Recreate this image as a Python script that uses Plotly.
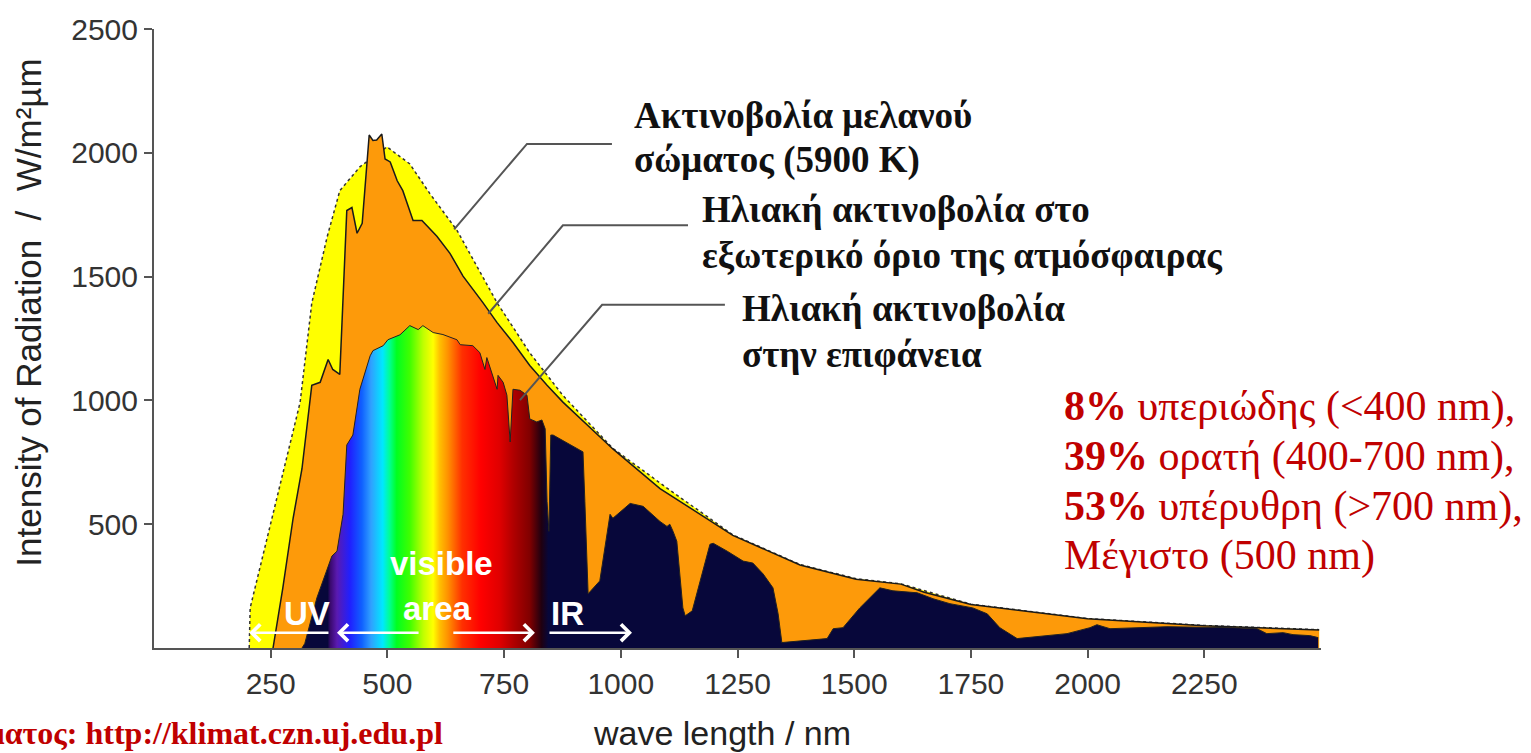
import plotly.graph_objects as go

# ---------------- data ----------------
# Black-body radiation (5900 K)
bb_nm = [204, 206, 234, 276, 313, 338, 371, 398, 441, 478, 499, 548, 591, 649,
         735, 805, 876, 983, 1099, 1240, 1384, 1504, 1600, 1750, 1812, 2000, 2250, 2496]
bb_val = [0, 162, 379, 700, 992, 1393, 1661, 1847, 1943, 1995, 2024, 1955, 1835, 1687,
          1394, 1192, 1020, 806, 646, 457, 337, 280, 259, 177, 163, 119, 91, 74]

# Solar radiation at the top of the atmosphere
etr_nm = [255, 276, 298, 317, 338, 356, 373, 383, 398, 405, 413, 424, 435, 446, 456,
          461, 469, 477, 488, 495, 506, 521, 533, 555, 574, 606, 634, 662, 705, 735,
          769, 805, 842, 876, 983, 1084, 1240, 1384, 1504, 1550, 1600, 1650, 1750,
          1812, 2000, 2250, 2496]
etr_val = [0, 243, 524, 724, 1061, 1073, 1165, 1125, 1105, 1394, 1767, 1779, 1675, 1715, 1956,
           2072, 2050, 2052, 2076, 1975, 1963, 1887, 1847, 1727, 1727, 1663, 1594, 1502, 1394, 1314,
           1234, 1141, 1061, 993, 804, 644, 455, 335, 278, 268, 258, 225, 176,
           162, 118, 90, 73]

# Solar radiation at the surface
sfc_nm = [317, 323, 349, 371, 381, 392, 405, 413, 426, 441, 448, 463, 469, 491, 501,
          527, 548, 566, 576, 598, 619, 649, 656, 683, 698, 709, 713, 726, 735, 737,
          748, 756, 763, 769, 784, 799, 805, 820, 831, 838, 842, 846, 850, 855, 919,
          923, 930, 955, 977, 983, 1020, 1048, 1084, 1099, 1105, 1112, 1120, 1133, 1138,
          1153, 1170, 1191, 1198, 1228, 1262, 1283, 1305, 1326, 1337, 1345, 1442, 1455,
          1476, 1512, 1555, 1583, 1635, 1669, 1705, 1754, 1785, 1812, 1849, 1956, 2005,
          2020, 2048, 2170, 2311, 2363, 2384, 2419, 2440, 2476, 2494]
sfc_val = [0, 18, 203, 323, 371, 391, 540, 820, 860, 1045, 1085, 1180, 1201, 1221, 1245,
           1265, 1302, 1286, 1302, 1274, 1266, 1245, 1225, 1221, 1193, 1125, 1173, 1101, 1045, 1101,
           1073, 1021, 832, 1045, 1041, 1021, 925, 913, 921, 885, 592, 471, 860, 860, 792,
           592, 219, 271, 540, 524, 584, 572, 511, 491, 500, 471, 431, 162, 130,
           150, 271, 419, 423, 391, 351, 343, 299, 243, 138, 22, 38, 78,
           82, 162, 243, 231, 223, 199, 179, 162, 138, 82, 38, 58, 82,
           94, 78, 86, 82, 78, 58, 62, 54, 50, 42]

x_tickvals = [250, 500, 750, 1000, 1250, 1500, 1750, 2000, 2250]
x_ticktext = ["250", "500", "750", "1000", "1250", "1500", "1750", "2000", "2250"]
y_tickvals = [500, 1000, 1500, 2000, 2500]
y_ticktext = ["500", "1000", "1500", "2000", "2500"]

# ---------------- styling ----------------
W, H = 1531, 753
L, R, T, B = 154, 210, 24, 105
PW, PH = W - L - R, H - T - B
X_MAX, Y_MAX = 2500, 2500


def px(x):
    return (x - L) / PW


def py(y):
    return (H - B - y) / PH


NAVY = "#07073a"
spectrum_stops = [
    (0, NAVY), (372, NAVY), (378, "#3a0a6e"), (392, "#5a1ab0"), (420, "#2020ff"),
    (445, "#1060ff"), (465, "#30a0ff"), (490, "#00e8ff"), (505, "#00ff90"),
    (520, "#00ff20"), (548, "#40ff00"), (577, "#c0ff00"), (598, "#ffff00"),
    (612, "#ffc000"), (630, "#ff9000"), (660, "#ff3000"), (700, "#ff0000"),
    (740, "#e00000"), (770, "#b00000"), (805, "#800000"), (830, "#200010"),
    (845, NAVY), (X_MAX, NAVY),
]
colorscale = [[nm / X_MAX, c] for nm, c in spectrum_stops]

fig = go.Figure()
fig.add_trace(go.Scatter(
    x=bb_nm, y=bb_val, mode="lines", fill="tozeroy", fillcolor="#ffff00",
    line=dict(color="#333333", width=1.5, dash="dot"), hoverinfo="skip",
    name="Ακτινοβολία μελανού σώματος (5900 K)"))
fig.add_trace(go.Scatter(
    x=etr_nm, y=etr_val, mode="lines", fill="tozeroy", fillcolor="#fd9a0a",
    line=dict(color="#1a1a1a", width=1.5), hoverinfo="skip",
    name="Ηλιακή ακτινοβολία στο εξωτερικό όριο της ατμόσφαιρας"))
fig.add_trace(go.Scatter(
    x=sfc_nm, y=sfc_val, mode="lines", fill="tozeroy",
    fillgradient=dict(type="horizontal", start=0, stop=X_MAX, colorscale=colorscale),
    line=dict(color="#222222", width=1), hoverinfo="skip",
    name="Ηλιακή ακτινοβολία στην επιφάνεια"))

# leader lines (data coordinates)
leaders = [
    [(981, 2036), (799, 2036), (643, 1691)],
    [(1144, 1707), (876, 1707), (716, 1350)],
    [(1223, 1386), (960, 1386), (784, 1001)],
]
shapes = []
for pts in leaders:
    path = "M " + " L ".join(f"{x},{y}" for x, y in pts)
    shapes.append(dict(type="path", path=path, xref="x", yref="y",
                       line=dict(color="#555555", width=2)))

ann = []
SERIF = "Liberation Serif, Times New Roman, serif"
SANS = "Liberation Sans, Arial, Helvetica, sans-serif"

# black labels
black_lines = [
    ("Ακτινοβολία μελανού", 632, 111),
    ("σώματος (5900 K)", 632, 156),
    ("Ηλιακή ακτινοβολία στο", 700, 206),
    ("εξωτερικό όριο της ατμόσφαιρας", 700, 252),
    ("Ηλιακή ακτινοβολία", 740, 306),
    ("στην επιφάνεια", 740, 352),
]
for t, x, y in black_lines:
    ann.append(dict(text=f"<b>{t}</b>", x=px(x), y=py(y), xref="paper", yref="paper",
                    xanchor="left", yanchor="middle", showarrow=False,
                    font=dict(family=SERIF, size=37, color="#111111")))

# red block
red_lines = [
    ("<b>8%</b> υπεριώδης (&lt;400 nm),", 405),
    ("<b>39%</b> ορατή (400-700 nm),", 455),
    ("<b>53%</b> υπέρυθρη (&gt;700 nm),", 505),
    ("Μέγιστο (500 nm)", 555),
]
for t, y in red_lines:
    ann.append(dict(text=t, x=px(1062), y=py(y), xref="paper", yref="paper",
                    xanchor="left", yanchor="middle", showarrow=False,
                    font=dict(family=SERIF, size=42, color="#c00000")))

# source caption (cut at left edge as in the reference)
ann.append(dict(text="<b>Πηγή σχήματος: http://klimat.czn.uj.edu.pl</b>", x=px(445), y=py(734),
                xref="paper", yref="paper", xanchor="right", yanchor="middle",
                showarrow=False, font=dict(family=SERIF, size=32, color="#c00000")))

# axis titles
ann.append(dict(text="Intensity of Radiation\u00a0\u00a0/\u00a0\u00a0W/m²µm", x=px(29), y=py(310),
                xref="paper", yref="paper", xanchor="center", yanchor="middle",
                textangle=-90, showarrow=False, font=dict(family=SANS, size=35, color="#222222")))
ann.append(dict(text="wave length / nm", x=px(722), y=py(734), xref="paper", yref="paper",
                xanchor="center", yanchor="middle", showarrow=False,
                font=dict(family=SANS, size=34, color="#222222")))

# white band labels
for t, x, y in [("UV", 307, 613), ("visible", 441, 563), ("area", 437, 608), ("IR", 567, 613)]:
    ann.append(dict(text=f"<b>{t}</b>", x=px(x), y=py(y), xref="paper", yref="paper",
                    xanchor="center", yanchor="middle", showarrow=False,
                    font=dict(family=SANS, size=33, color="#ffffff")))

# white arrows (head, tail) in data coordinates
arrows = [((204, 62), (377, 62)), ((392, 62), (570, 62)),
          ((816, 62), (638, 62)), ((1024, 62), (844, 62))]
for (hx, hy), (tx, ty) in arrows:
    ann.append(dict(text="", x=hx, y=hy, ax=tx, ay=ty, xref="x", yref="y",
                    axref="x", ayref="y", showarrow=True, arrowhead=4,
                    arrowsize=1.3, arrowwidth=2.5, arrowcolor="#ffffff"))

fig.update_layout(
    width=W, height=H, margin=dict(l=L, r=R, t=T, b=B),
    paper_bgcolor="white", plot_bgcolor="white", showlegend=False,
    shapes=shapes, annotations=ann,
    xaxis=dict(range=[0, X_MAX], tickvals=x_tickvals, ticktext=x_ticktext,
               showgrid=False, zeroline=False, showline=True, linecolor="#555555",
               linewidth=2, ticks="outside", ticklen=8, tickwidth=2, tickcolor="#555555",
               tickfont=dict(family=SANS, size=30, color="#333333")),
    yaxis=dict(range=[0, Y_MAX], tickvals=y_tickvals, ticktext=y_ticktext,
               showgrid=False, zeroline=False, showline=True, linecolor="#555555",
               linewidth=2, ticks="outside", ticklen=8, tickwidth=2, tickcolor="#555555",
               tickfont=dict(family=SANS, size=30, color="#333333")),
)

fig.write_html("out.html", config={"displayModeBar": False},
               post_script="document.body.style.margin='0px';document.body.style.overflow='hidden';")
